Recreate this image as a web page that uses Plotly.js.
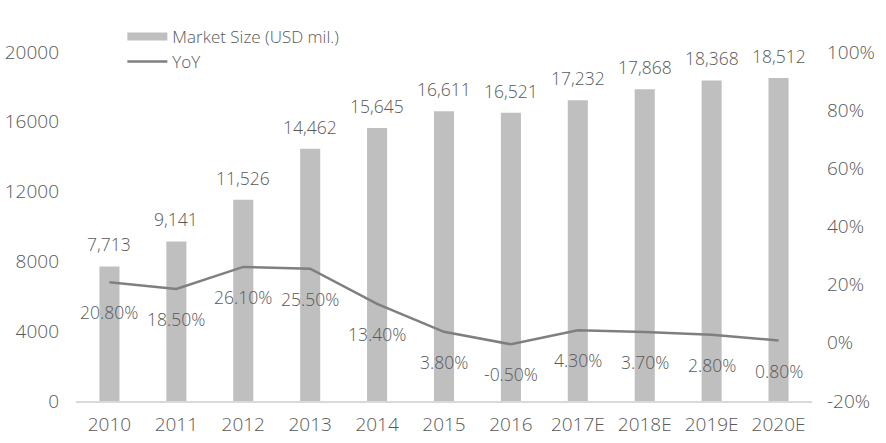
<!DOCTYPE html>
<html>
<head>
<meta charset="utf-8">
<script src="https://cdn.plot.ly/plotly-3.0.1.min.js"></script>
<style>html,body{margin:0;padding:0;background:#fff;}#chart{width:886px;height:443px;}</style>
</head>
<body>
<div id="chart"></div>
<script>
var years = ["2010","2011","2012","2013","2014","2015","2016","2017E","2018E","2019E","2020E"];
var marketSize = [7713, 9141, 11526, 14462, 15645, 16611, 16521, 17232, 17868, 18368, 18512];
var yoy = [20.8, 18.5, 26.1, 25.5, 13.4, 3.8, -0.5, 4.3, 3.7, 2.8, 0.8];
var leftTicks = [0, 4000, 8000, 12000, 16000, 20000];
var rightTicks = [-20, 0, 20, 40, 60, 80, 100];

var txtColor = "#595959";
var fontFam = "'Open Sans', 'Noto Sans', sans-serif";
var fw = 300;

var traces = [
  {
    type: "bar", name: "Market Size (USD mil.)", x: years, y: marketSize,
    marker: {color: "#bfbfbf"}, width: 0.3, yaxis: "y", hoverinfo: "none",
    showlegend: false
  },
  {
    type: "scatter", mode: "lines", name: "Market Size (USD mil.)", x: [null], y: [null],
    line: {color: "#bfbfbf", width: 8}, yaxis: "y", hoverinfo: "none", showlegend: true
  },
  {
    type: "scatter", mode: "lines", name: "YoY", x: years, y: yoy,
    line: {color: "#7f7f7f", width: 2.5}, yaxis: "y2", hoverinfo: "none"
  }
];

var annotations = [];
years.forEach(function (yr, i) {
  annotations.push({
    x: i, y: marketSize[i], xref: "x", yref: "y",
    text: marketSize[i].toLocaleString("en-US"),
    showarrow: false, yanchor: "middle", yshift: 22,
    font: {size: 17.5, color: txtColor, family: fontFam, weight: fw}
  });
  annotations.push({
    x: i, y: yoy[i], xref: "x", yref: "y2",
    text: yoy[i].toFixed(2) + "%",
    showarrow: false, yanchor: "middle", yshift: -30,
    font: {size: 17.5, color: txtColor, family: fontFam, weight: fw}
  });
});

var layout = {
  width: 886, height: 443,
  margin: {l: 76, r: 74, t: 52, b: 42},
  paper_bgcolor: "#fff", plot_bgcolor: "#fff",
  font: {family: fontFam, color: txtColor, weight: fw},
  showlegend: true,
  legend: {
    x: 0.063, y: 1.095, xanchor: "left", yanchor: "top",
    orientation: "v", bgcolor: "rgba(0,0,0,0)",
    font: {size: 17, color: txtColor, family: fontFam, weight: fw},
    tracegroupgap: 0, itemwidth: 40, traceorder: "normal"
  },
  xaxis: {
    type: "category", categoryorder: "array", categoryarray: years,
    range: [-0.5, years.length - 0.5],
    showgrid: false, zeroline: false,
    showline: true, linecolor: "#d9d9d9", linewidth: 1.5,
    ticks: "", ticklabelstandoff: 6,
    tickfont: {size: 19, color: txtColor, family: fontFam, weight: fw},
    fixedrange: true
  },
  yaxis: {
    range: [0, 20000], tickvals: leftTicks, ticktext: leftTicks.map(String),
    showgrid: false, zeroline: false, showline: false, ticks: "",
    ticklabelstandoff: 16,
    tickfont: {size: 19, color: txtColor, family: fontFam, weight: fw}
  },
  yaxis2: {
    overlaying: "y", side: "right", range: [-20, 100],
    tickvals: rightTicks, ticktext: rightTicks.map(function (v) { return v + "%"; }),
    showgrid: false, zeroline: false, showline: false, ticks: "",
    ticklabelstandoff: 14,
    tickfont: {size: 19, color: txtColor, family: fontFam, weight: fw}
  },
  annotations: annotations
};

Plotly.newPlot("chart", traces, layout, {displayModeBar: false, staticPlot: true});
</script>
</body>
</html>
